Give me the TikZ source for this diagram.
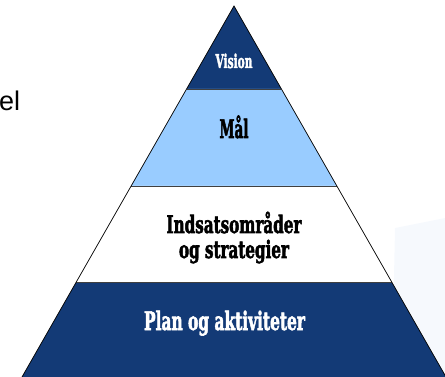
\documentclass[tikz,border=0pt]{standalone}
\usepackage{fontspec}
\setmainfont{Liberation Sans}
\newfontfamily\condfont{DejaVu Serif Condensed Bold}[FakeBold=2.5]
\definecolor{darkblue}{HTML}{133A76}
\definecolor{lightblue}{HTML}{99CCFF}
\definecolor{paleblue}{HTML}{F6F9FD}
\newcommand{\layertext}[3]{\resizebox{#1pt}{\height}{\fontsize{#2}{#2}\condfont #3}}
\begin{document}
\begin{tikzpicture}[x=1pt,y=-1pt]
            \useasboundingbox (0,0) rectangle (445,377);
            \fill[paleblue] (395,228) -- (445,218) -- (445,377) -- (392,377) -- cycle;

            % layers of the pyramid
            \fill[darkblue] (234,6) -- (281.4,89) -- (186.6,89) -- cycle;
            \fill[lightblue] (186.6,89) -- (281.4,89) -- (336.9,186) -- (131.1,186) -- cycle;
            \fill[white] (131.1,186) -- (336.9,186) -- (391.7,282) -- (76.3,282) -- cycle;
            \fill[darkblue] (76.3,282) -- (391.7,282) -- (446,377) -- (22,377) -- cycle;
            \draw[black!75, line width=0.8pt] (186.6,89) -- (281.4,89);
            \draw[black!75, line width=0.8pt] (131.1,186) -- (336.9,186);
            \draw[black!75, line width=0.8pt] (76.3,282) -- (391.7,282);
            \draw[line width=0.7pt] (22,377) -- (234,6) -- (446,377);

            \node (vision) at (234,68) [anchor=base, inner sep=0pt, text=white] {\layertext{37}{19}{Vision}};
            \node (maal) at (234,138) [anchor=base, inner sep=0pt] {\layertext{29}{25.5}{Mål}};
            \node (indsats) at (234,233) [anchor=base, inner sep=0pt] {\layertext{135}{24}{Indsatsområder}};
            \node (strategi) at (234,258) [anchor=base, inner sep=0pt] {\layertext{110}{24}{og strategier}};
            \node (plan) at (224.5,330) [anchor=base, inner sep=0pt, text=white] {\layertext{161}{25.5}{Plan og aktiviteter}};

            \node (model) at (-1,111) [anchor=base west, inner sep=0pt, font=\fontsize{27}{27}\selectfont] {el};
        \end{tikzpicture}
\end{document}
